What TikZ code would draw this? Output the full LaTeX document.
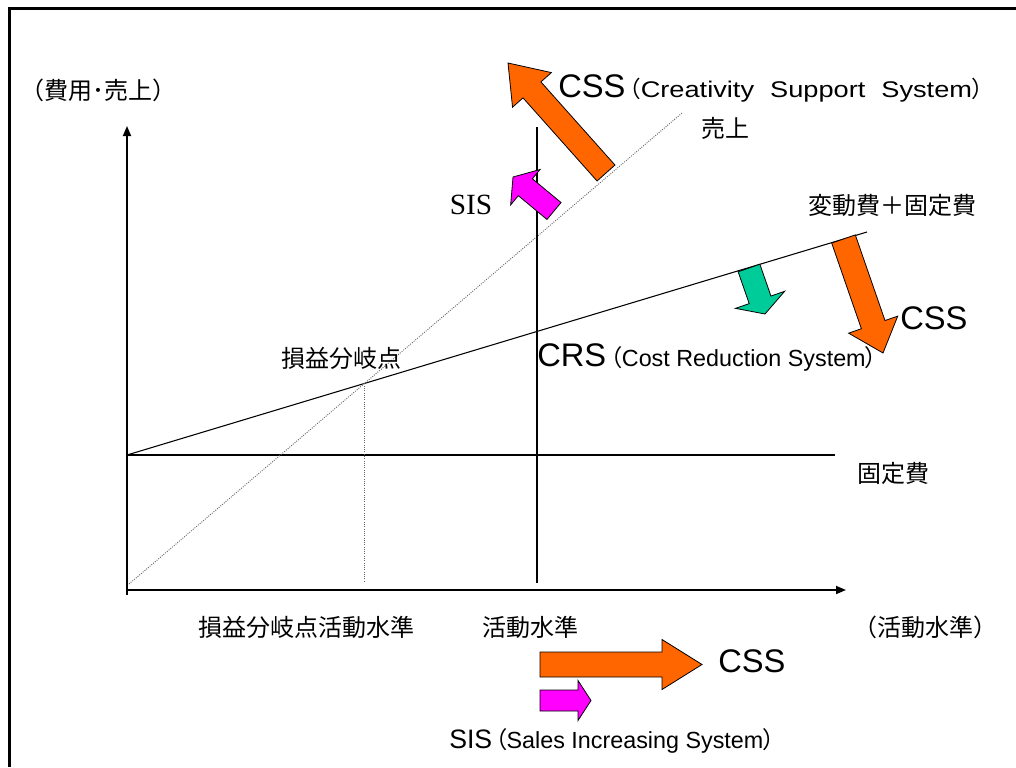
\documentclass[tikz,border=0pt]{standalone}
\usepackage{fontspec}
\setmainfont{Noto Sans CJK JP}
\newfontfamily\cjkp[RawFeature=+palt]{Noto Sans CJK JP}
\newfontfamily\lat{Liberation Sans}
\newfontfamily\widelat[FakeStretch=1.2]{Liberation Sans}
\newfontfamily\tms{Liberation Serif}
\usetikzlibrary{arrows.meta}
% block arrow: #1 fill, (#2,#3) tail centre, (#4,#5) tip, #6 shaft width, #7 head width, #8 head length (px)
\newcommand\blockarr[8]{%
  \pgfmathsetmacro\bdx{#4-#2}%
  \pgfmathsetmacro\bdy{-(#5-#3)}%
  \pgfmathsetmacro\bang{atan2(\bdy,\bdx)}%
  \pgfmathsetmacro\blen{veclen(\bdx,\bdy)}%
  \pgfmathsetmacro\bneck{\blen-#8}%
  \filldraw[blk, fill=#1, shift={(#2,-#3)}, rotate=\bang]
    (0,{-#6/2}) -- (\bneck,{-#6/2}) -- (\bneck,{-#7/2}) -- (\blen,0) --
    (\bneck,{#7/2}) -- (\bneck,{#6/2}) -- (0,{#6/2}) -- cycle;}
\definecolor{orng}{RGB}{255,102,0}
\definecolor{mgnt}{RGB}{255,0,255}
\definecolor{grn}{RGB}{0,204,153}
\tikzset{
  lbl/.style={inner sep=0pt, font=\fontsize{18}{18}\selectfont},
  bigsans/.style={font=\lat\fontsize{24.5}{24.5}\selectfont},
  axisline/.style={line width=1.3pt, -{Triangle[length=7.5pt,width=6pt]}},
  plain/.style={line width=0.8pt},
  dotline/.style={densely dotted, black!60, line width=0.7pt},
  blk/.style={draw=black, line width=0.6pt, line join=miter},
  frame/.style={line width=2.3pt},
}
\begin{document}
\begin{tikzpicture}[x=0.75pt,y=0.75pt]
\useasboundingbox (0,0) rectangle (1016,-767);
% frame (only top and left visible)
\coordinate (FrTL) at (9.5,-8.5);
\coordinate (FrTR) at (1016,-8.5);
\coordinate (FrBL) at (9.5,-767);
\draw[frame] (FrTR) -- (FrTL) -- (FrBL);
% key points
\coordinate (O) at (127,-590);
\coordinate (Ybot) at (127,-595);
\coordinate (Ytop) at (127,-126);
\coordinate (Xend) at (846,-590);
\coordinate (F0) at (127,-455);
\coordinate (F1) at (835,-455);
\coordinate (V1) at (867,-232);
\coordinate (S0) at (129,-584);
\coordinate (S1) at (682,-113);
\coordinate (Q0) at (537,-127);
\coordinate (Q1) at (537,-583);
\coordinate (BE) at (intersection of S0--S1 and F0--V1);
\coordinate (BEb) at (365,-582);
% axes
\draw[axisline] (Ybot) -- (Ytop);
\draw[axisline] (O) -- (Xend);
% lines
\draw[plain] (F0) -- (F1);
\draw[plain] (F0) -- (V1);
\draw[dotline] (S0) -- (S1);
\draw[dotline] (BE) -- (BE |- BEb);
\draw[plain] (Q0) -- (Q1);
% block arrows
\blockarr{orng}{606}{173}{508}{63}{24}{52}{36}
\blockarr{mgnt}{554}{211}{513}{177}{22}{46}{16}
\blockarr{grn}{749}{268}{765}{314}{23}{52}{15}
\blockarr{orng}{843.5}{239}{883}{353}{25}{52}{30}
\blockarr{orng}{540}{664.5}{702}{664.5}{25}{50}{40}
\blockarr{mgnt}{540}{700.5}{591}{700.5}{21}{40}{13}
% labels
\node[lbl] (ylab) at (98,-90) {（費用･売上）};
\node[lbl, anchor=base west] (cssTop) at (558,-98)
  {{\lat\fontsize{24.5}{24.5}\selectfont CSS}\kern3pt{\cjkp\fontsize{17}{17}\selectfont（}{\widelat\fontsize{17}{17}\selectfont Creativity\hspace{12pt}Support\hspace{12pt}System}{\cjkp\fontsize{17}{17}\selectfont）}};
\node[lbl] (uriage) at (725,-128) {売上};
\node[lbl, font=\tms\fontsize{22}{22}\selectfont] (sisTop) at (471,-205) {SIS};
\node[lbl] (vcost) at (892,-205) {変動費＋固定費};
\node[lbl, anchor=west, bigsans] (cssRight) at (900,-318) {CSS};
\node[lbl] (bep) at (341,-358) {損益分岐点};
\node[lbl, anchor=base west] (crs) at (537,-366)
  {{\lat\fontsize{24.5}{24.5}\selectfont CRS}\kern3pt{\cjkp\fontsize{17.5}{17.5}\selectfont（}{\lat\fontsize{17.5}{17.5}\selectfont Cost Reduction System}{\cjkp\fontsize{17.5}{17.5}\selectfont）}};
\node[lbl] (fixed) at (893,-473) {固定費};
\node[lbl] (bepact) at (306,-627) {損益分岐点活動水準};
\node[lbl] (act) at (530,-627) {活動水準};
\node[lbl] (xlab) at (925,-627) {（活動水準）};
\node[lbl, anchor=west, bigsans] (cssBot) at (718,-661) {CSS};
\node[lbl, anchor=base west] (sisBot) at (449,-748)
  {{\lat\fontsize{20}{20}\selectfont SIS}\kern2pt{\cjkp\fontsize{17.5}{17.5}\selectfont（}{\lat\fontsize{17.5}{17.5}\selectfont Sales Increasing System}{\cjkp\fontsize{17.5}{17.5}\selectfont）}};
\end{tikzpicture}
\end{document}
